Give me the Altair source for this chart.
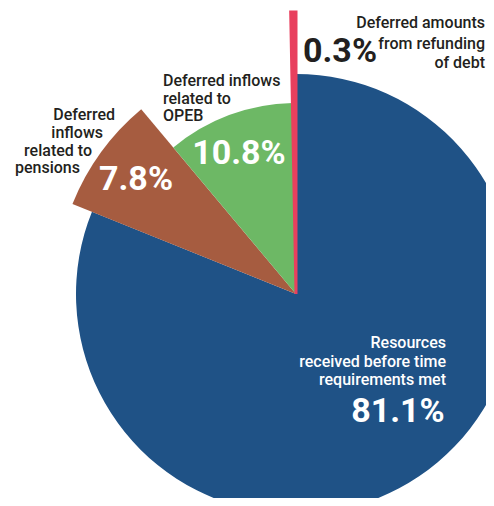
import math
import altair as alt
import pandas as pd

# ---- data ----
categories = [
    "Resources received before time requirements met",
    "Deferred inflows related to pensions",
    "Deferred inflows related to OPEB",
    "Deferred amounts from refunding of debt",
]
values = [81.1, 7.8, 10.8, 0.3]

# ---- style ----
colors = ["#1f5286", "#a65c40", "#6db865", "#e8405e"]
slice_radius = [220, 241, 191, 282]
dark = "#231f20"
FONT = "Roboto"
LBL = 16

W, H = 478, 490
CX, CY = 288, 286

df = pd.DataFrame({
    "category": categories,
    "value": values,
    "order": list(range(len(categories))),
    "radius": slice_radius,
})

color_scale = alt.Scale(domain=categories, range=colors)

pie = alt.Chart(df).transform_window(
    end="sum(value)", sort=[alt.SortField("order", order="ascending")],
    frame=[None, 0],
).transform_calculate(
    start="datum.end - datum.value"
).mark_arc().encode(
    theta=alt.Theta("start:Q", scale=alt.Scale(domain=[0, 100], range=[0, 2 * math.pi])),
    theta2=alt.Theta2("end:Q"),
    radius=alt.Radius("radius:Q", scale=None),
    color=alt.Color("category:N", scale=color_scale, legend=None),
    stroke=alt.Stroke("category:N", scale=color_scale, legend=None),
    strokeWidth=alt.condition(alt.datum.value < 1, alt.value(3), alt.value(0)),
    x=alt.value(CX),
    y=alt.value(CY),
)

base_text = alt.Chart(pd.DataFrame({"a": [0]}))


def label(text, x, y, align, size=LBL, weight=500, color=dark):
    return base_text.mark_text(
        text=text, align=align, baseline="alphabetic", font=FONT,
        fontSize=size, fontWeight=weight, color=color,
    ).encode(x=alt.value(x - 8), y=alt.value(y - 8))


def pct(v):
    return f"{v}%"


layers = [pie]
# Deferred amounts from refunding of debt
for t, yy in zip(["Deferred amounts", "from refunding", "of debt"], [28.3, 49.3, 67.7]):
    layers.append(label(t, 485, yy, "right"))
layers.append(label(pct(values[3]), 303, 62, "left", size=34, weight=700))
# OPEB
for t, yy in zip(["Deferred inflows", "related to", "OPEB"], [86, 103.5, 121]):
    layers.append(label(t, 163, yy, "left"))
layers.append(label(pct(values[2]), 239, 164, "center", size=34, weight=700, color="white"))
# pensions
for t, xx, yy in zip(["Deferred", "inflows", "related to", "pensions"],
                     [115, 103, 92, 80], [120, 138, 156, 173]):
    layers.append(label(t, xx, yy, "right"))
layers.append(label(pct(values[1]), 136, 190, "center", size=34, weight=700, color="white"))
# Resources
for t, yy in zip(["Resources", "received before time", "requirements met"], [348, 366.5, 385]):
    layers.append(label(t, 446, yy, "right", color="white"))
layers.append(label(pct(values[0]), 398, 422, "center", size=34, weight=700, color="white"))

chart = alt.layer(*layers).properties(
    width=W, height=H, padding=0, autosize=alt.AutoSizeParams(type="none"),
).configure_view(stroke=None)

chart.save("out.html", embed_options={"renderer": "svg", "actions": False})
